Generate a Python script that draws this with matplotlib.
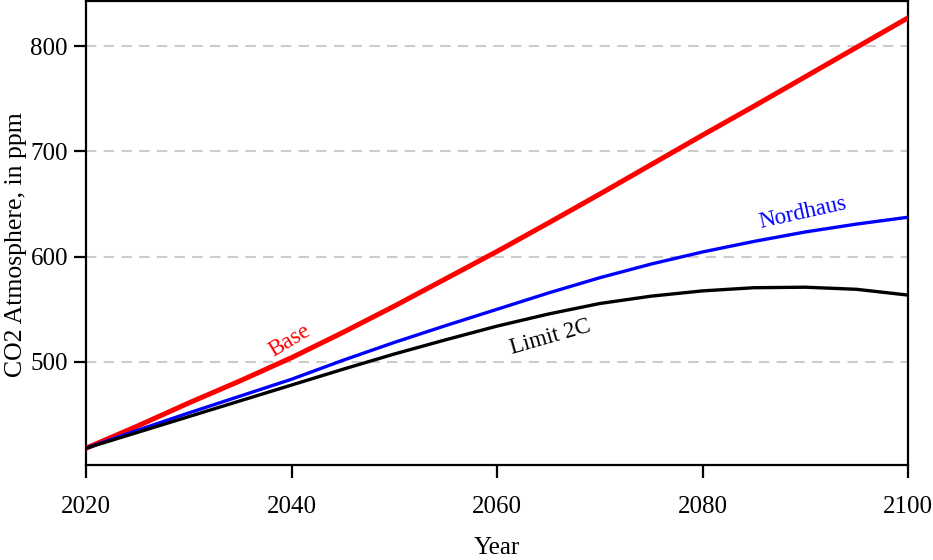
import numpy as np
import matplotlib
matplotlib.use("Agg")
import matplotlib.pyplot as plt

plt.rcParams.update({
    "font.family": "Liberation Serif",
    "font.size": 18,
})

years = np.arange(2020, 2101, 5)

# CO2 concentration in the atmosphere (ppm) for each scenario
base = [418, 439, 461, 482, 504, 528, 553, 579, 605, 632, 659.5, 687.5, 715.5, 743, 771, 799, 827]
nordhaus = [418, 435, 451.5, 467.5, 483.5, 501.5, 518.5, 534.5, 550, 565.5, 580, 593, 604.5, 614.5, 623.5, 631, 637.5]
limit_2c = [418, 433, 448, 463, 478, 493, 507.5, 521, 534, 545.5, 555.5, 562.5, 567.5, 570.5, 571, 569, 563.5]

x_ticks = [2020, 2040, 2060, 2080, 2100]
y_ticks = [500, 600, 700, 800]

fig = plt.figure(figsize=(9.33, 5.6), dpi=100)
ax = fig.add_axes([0.0922, 0.1696, 0.881, 0.8286])

ax.plot(years, base, color="#ff0000", lw=3.6, zorder=3)
ax.plot(years, nordhaus, color="#0000ff", lw=2.4, zorder=3)
ax.plot(years, limit_2c, color="black", lw=2.4, zorder=3)

ax.text(2039.8, 520, "Base", color="#ff0000", fontsize=16.5, rotation=31,
        ha="center", va="center", rotation_mode="anchor")
ax.text(2065.2, 523.7, "Limit 2C", color="black", fontsize=16.5, rotation=16,
        ha="center", va="center", rotation_mode="anchor")
ax.text(2089.8, 641.5, "Nordhaus", color="#0000ff", fontsize=16.5, rotation=12.5,
        ha="center", va="center", rotation_mode="anchor")

ax.set_xlim(2020, 2100)
ax.set_ylim(402, 843)
ax.set_xticks(x_ticks)
ax.set_yticks(y_ticks)

for y in y_ticks:
    ax.axhline(y, color="#cccccc", lw=1.5, ls=(0, (5, 3.5)), zorder=1)

for side in ["left", "bottom", "right", "top"]:
    ax.spines[side].set_linewidth(1.6)
    ax.spines[side].set_color("black")

ax.tick_params(axis="both", length=9, width=1.6, color="black")
ax.tick_params(axis="x", pad=13)
ax.tick_params(axis="y", pad=4)

ax.set_xlabel("Year", fontsize=18, labelpad=14)
ax.set_ylabel("CO2 Atmosphere, in ppm", fontsize=18.5)
ax.yaxis.set_label_coords(-0.072, 0.474)

fig.savefig("out.png", dpi=100)
